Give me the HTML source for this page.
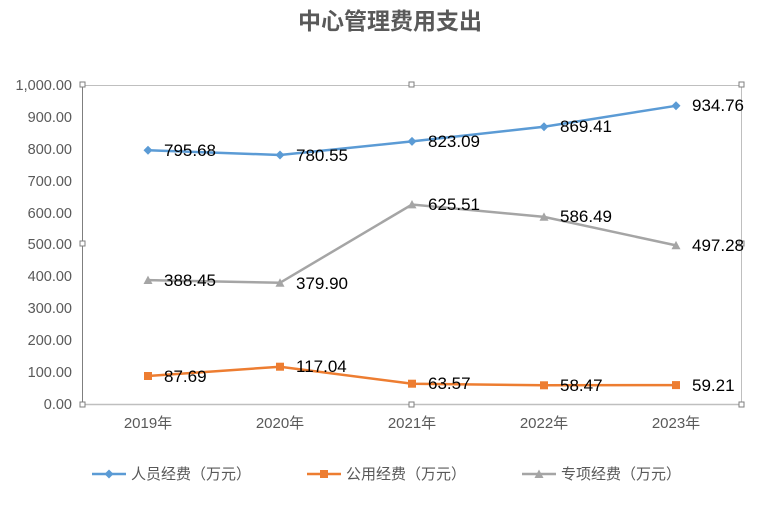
<!DOCTYPE html>
<html><head><meta charset="utf-8"><style>
body{margin:0;background:#fff;}
svg{display:block;font-family:"Liberation Sans","Noto Sans CJK SC",sans-serif;}
</style></head><body>
<svg width="772" height="515" viewBox="0 0 772 515">
<text x="390" y="29" text-anchor="middle" font-size="23" font-weight="bold" fill="#595959" font-family="'Noto Sans CJK SC',sans-serif">中心管理费用支出</text>
<g font-size="14.5" fill="#595959" text-anchor="end">
<text x="72" y="409">0.00</text>
<text x="72" y="377">100.00</text>
<text x="72" y="345">200.00</text>
<text x="72" y="313">300.00</text>
<text x="72" y="281">400.00</text>
<text x="72" y="249">500.00</text>
<text x="72" y="218">600.00</text>
<text x="72" y="186">700.00</text>
<text x="72" y="154">800.00</text>
<text x="72" y="122">900.00</text>
<text x="72" y="90">1,000.00</text>
</g>
<rect x="82.5" y="85.5" width="659" height="319" fill="none" stroke="#bfbfbf"/>
<line x1="82.5" y1="85" x2="82.5" y2="404" stroke="#7f7f7f"/>
<line x1="82" y1="404.5" x2="742" y2="404.5" stroke="#bfbfbf" stroke-width="1.5"/>
<g fill="#fff" stroke="#7f7f7f" stroke-width="1">
<rect x="80" y="82" width="5" height="5"/><rect x="409" y="82" width="5" height="5"/><rect x="739" y="82" width="5" height="5"/>
<rect x="80" y="241" width="5" height="5"/><rect x="739" y="241" width="5" height="5"/>
<rect x="80" y="402" width="5" height="5"/><rect x="409" y="402" width="5" height="5"/><rect x="739" y="402" width="5" height="5"/>
</g>
<g font-size="15" fill="#595959" text-anchor="middle">
<text x="148" y="428">2019年</text><text x="280" y="428">2020年</text><text x="412" y="428">2021年</text><text x="544" y="428">2022年</text><text x="676" y="428">2023年</text>
</g>
<polyline points="148,150.2 280,155 412,141.4 544,126.7 676,105.8" fill="none" stroke="#5b9bd5" stroke-width="2.5"/>
<g fill="#5b9bd5">
<polygon points="148,145.7 152.5,150.2 148,154.7 143.5,150.2"/><polygon points="280,150.5 284.5,155 280,159.5 275.5,155"/><polygon points="412,136.9 416.5,141.4 412,145.9 407.5,141.4"/><polygon points="544,122.2 548.5,126.7 544,131.2 539.5,126.7"/><polygon points="676,101.3 680.5,105.8 676,110.3 671.5,105.8"/>
</g>
<polyline points="148,376 280,366.7 412,383.7 544,385.3 676,385.1" fill="none" stroke="#ed7d31" stroke-width="2.5"/>
<g fill="#ed7d31">
<rect x="144" y="372" width="8" height="8"/><rect x="276" y="362.7" width="8" height="8"/><rect x="408" y="379.7" width="8" height="8"/><rect x="540" y="381.3" width="8" height="8"/><rect x="672" y="381.1" width="8" height="8"/>
</g>
<polyline points="148,280.1 280,282.8 412,204.5 544,216.9 676,245.4" fill="none" stroke="#a5a5a5" stroke-width="2.5"/>
<g fill="#a5a5a5">
<polygon points="148,275.6 152.5,284 143.5,284"/><polygon points="280,278.3 284.5,286.7 275.5,286.7"/><polygon points="412,200 416.5,208.4 407.5,208.4"/><polygon points="544,212.4 548.5,220.8 539.5,220.8"/><polygon points="676,240.9 680.5,249.3 671.5,249.3"/>
</g>
<g font-size="17" fill="#000">
<text x="164" y="156">795.68</text><text x="296" y="161">780.55</text><text x="428" y="147">823.09</text><text x="560" y="132">869.41</text><text x="692" y="111">934.76</text>
<text x="164" y="286">388.45</text><text x="296" y="289">379.90</text><text x="428" y="210">625.51</text><text x="560" y="222">586.49</text><text x="692" y="251">497.28</text>
<text x="164" y="382">87.69</text><text x="296" y="372">117.04</text><text x="428" y="389">63.57</text><text x="560" y="391">58.47</text><text x="692" y="391">59.21</text>
</g>
<g font-size="15" fill="#595959">
<line x1="92" y1="474" x2="126" y2="474" stroke="#5b9bd5" stroke-width="2.5"/><polygon points="109,469.5 113.5,474 109,478.5 104.5,474" fill="#5b9bd5"/>
<text x="131" y="479">人员经费（万元）</text>
<line x1="307" y1="474" x2="341" y2="474" stroke="#ed7d31" stroke-width="2.5"/><rect x="320" y="470" width="8" height="8" fill="#ed7d31"/>
<text x="346" y="479">公用经费（万元）</text>
<line x1="522" y1="474" x2="556" y2="474" stroke="#a5a5a5" stroke-width="2.5"/><polygon points="539,469.5 543.5,478 534.5,478" fill="#a5a5a5"/>
<text x="561" y="479">专项经费（万元）</text>
</g>
</svg>
</body></html>
